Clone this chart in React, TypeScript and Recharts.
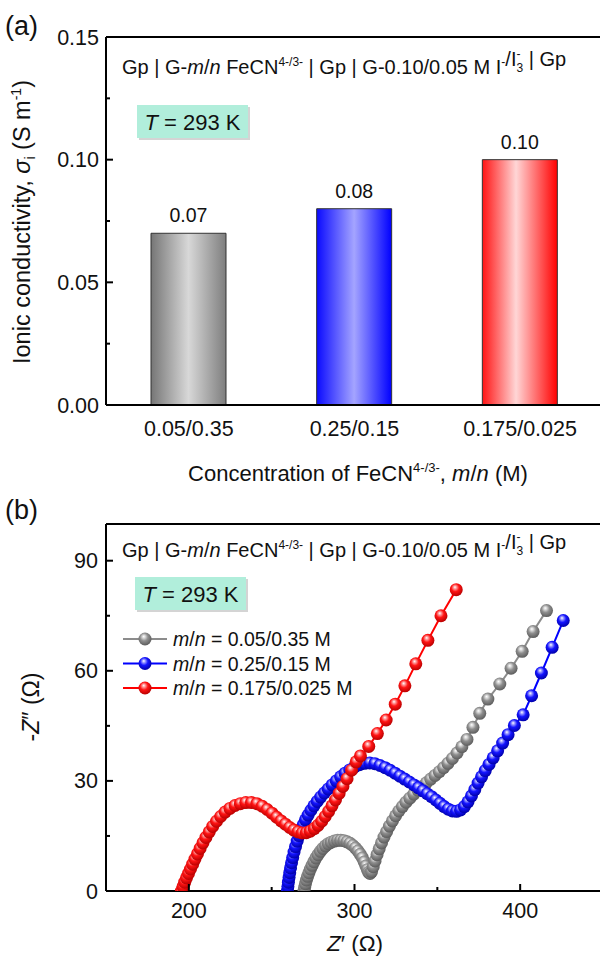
import {
  BarChart, Bar, XAxis, YAxis, Cell, LabelList, ReferenceLine,
  ScatterChart, Scatter,
} from "recharts";

const FONT = "Arial, 'Liberation Sans', sans-serif";

// panel (a): ionic conductivity per composition
const categories = ["0.05/0.35", "0.25/0.15", "0.175/0.025"];
const conductivity = [0.07, 0.08, 0.1];
const barFills = ["url(#barGray)", "url(#barBlue)", "url(#barRed)"];
const sigmaTicks = [0, 0.025, 0.05, 0.075, 0.1, 0.125, 0.15];

// panel (b): Nyquist plots, [Z', -Z''] in ohm
const grayZ: [number, number][] = [
  [269.5, 0], [269.9, 1], [270.4, 2], [271, 3], [271.7, 4], [272.5, 5], [273.4, 6], [274.4, 7],
  [275.5, 8], [276.7, 9], [278, 9.9], [279.4, 10.8], [280.9, 11.6], [282.5, 12.3], [284.2, 12.9],
  [286, 13.3], [287.9, 13.6], [289.8, 13.8], [291.7, 13.8], [293.6, 13.7], [295.5, 13.4],
  [297.3, 13], [299, 12.4], [300.6, 11.7], [302.1, 10.9], [303.5, 10], [304.8, 9],
  [305.9, 7.9], [306.9, 6.8], [307.8, 5.8], [308.6, 5.1], [309.4, 4.8], [310.3, 5.3],
  [311.3, 6.6], [312.4, 8.2], [313.6, 9.9], [314.9, 11.5], [316.3, 13.1], [317.8, 14.7],
  [319.4, 16.2], [321.1, 17.7], [322.9, 19.1], [324.8, 20.5], [326.8, 21.8], [328.9, 23],
  [331.1, 24.2], [333.4, 25.3], [335.8, 26.4], [338.3, 27.5], [340.8, 28.5], [343.4, 29.5],
  [346, 30.5], [348.6, 31.5], [351.2, 32.5], [353.8, 33.6], [356.4, 34.8], [359.1, 36.1],
  [361.9, 37.6], [364.8, 39.3], [367.9, 41.3], [371.5, 44.6], [375.6, 48.4], [380.5, 52.3],
  [387.7, 56.4], [394.5, 60.7], [401.2, 65.3], [407.8, 70.7], [415.9, 76.4],
];

const blueZ: [number, number][] = [
  [259.5, 0], [259.8, 1.2], [260.1, 2.4], [260.5, 3.7], [260.9, 5], [261.4, 6.3], [262, 7.7],
  [262.7, 9.1], [263.5, 10.6], [264.4, 12.1], [265.4, 13.6], [266.5, 15.1], [267.7, 16.6],
  [269, 18], [270.4, 19.4], [272, 20.7], [273.7, 22], [275.5, 23.2], [277.5, 24.4],
  [279.6, 25.6], [281.8, 26.7], [284.1, 27.8], [286.5, 28.9], [289, 30], [291.6, 31.1],
  [294.3, 32.1], [297.1, 33], [300, 33.8], [303, 34.4], [306.1, 34.8], [309.2, 34.9],
  [312.3, 34.7], [315.4, 34.2], [318.5, 33.6], [321.5, 32.9], [324.5, 32.1], [327.4, 31.3],
  [330.3, 30.5], [333.1, 29.7], [335.9, 28.9], [338.6, 28.1], [341.3, 27.3], [343.9, 26.5],
  [346.5, 25.7], [349.1, 24.8], [351.6, 23.9], [354.1, 23], [356.6, 22.3], [359.1, 21.8],
  [361.6, 21.7], [364, 22.1], [366.3, 23], [368.5, 24.3], [370.6, 25.9], [372.6, 27.6],
  [374.6, 29.4], [376.7, 31.1], [378.9, 32.8], [381.2, 34.5], [383.7, 36.3], [386.4, 38.2],
  [389.4, 40.3], [392.7, 42.6], [396.5, 45.1], [401.8, 48], [406.9, 53.2], [412.8, 59.4],
  [419.3, 66.4], [426, 73.7],
];

const redZ: [number, number][] = [
  [195.5, 0], [196.5, 1.2], [197.5, 2.4], [198.6, 3.6], [199.8, 4.8], [201, 6], [202.3, 7.3],
  [203.7, 8.7], [205.2, 10.1], [206.8, 11.6], [208.5, 13.1], [210.3, 14.6], [212.3, 16.1],
  [214.4, 17.6], [216.7, 19], [219.2, 20.3], [221.9, 21.5], [224.8, 22.5], [227.9, 23.3],
  [231.1, 23.8], [234.4, 24.1], [237.8, 24.1], [241.1, 23.8], [244.3, 23.1], [247.3, 22.2],
  [250.2, 21.2], [253, 20.1], [255.7, 19.1], [258.3, 18.2], [260.9, 17.3], [263.4, 16.6],
  [265.9, 16.1], [268.4, 15.8], [270.9, 15.9], [273.3, 16.3], [275.7, 17], [278, 17.9],
  [280.2, 19], [282.3, 20.3], [284.4, 21.7], [286.4, 23.2], [288.5, 24.8], [290.7, 26.6],
  [293, 28.5], [295.5, 30.6], [298.2, 32.9], [301, 35.2], [303.6, 36.8], [308.6, 39.4],
  [313.8, 42.9], [319.1, 46.6], [324.6, 50.9], [330.4, 55.9], [337, 61.9], [344.3, 68.3],
  [352.2, 75], [361.4, 82.1],
];

const seriesNames = ["0.05/0.35", "0.25/0.15", "0.175/0.025"];
const seriesColors = ["#8c8c8c", "#0000ff", "#ff0000"];
const sphereIds = ["sphGray", "sphBlue", "sphRed"];
const zTicksX = [200, 250, 300, 350, 400];
const zTicksY = [0, 15, 30, 45, 60, 75, 90];

const toPts = (arr: [number, number][]) => arr.map(([x, y]) => ({ x, y }));

function LeftTickA(p: any) {
  const v = p.payload.value;
  const major = Math.abs(v / 0.05 - Math.round(v / 0.05)) < 1e-6;
  return (
    <g>
      <line x1={p.x} y1={p.y} x2={p.x + (major ? 7 : 4)} y2={p.y} stroke="#000" strokeWidth={2} />
      {major && (
        <text x={p.x - 7} y={p.y + 7.5} textAnchor="end" fontSize={21.5} fontFamily={FONT} fill="#111">
          {v.toFixed(2)}
        </text>
      )}
    </g>
  );
}

function RightTick(major: (v: number) => boolean) {
  return (p: any) => (
    <line x1={p.x} y1={p.y} x2={p.x - (major(p.payload.value) ? 7 : 4)} y2={p.y} stroke="#000" strokeWidth={2} />
  );
}

function CatTick(p: any) {
  return (
    <text x={p.x} y={p.y + 31} textAnchor="middle" fontSize={21.5} fontFamily={FONT} fill="#111">
      {p.payload.value}
    </text>
  );
}

function LeftTickB(p: any) {
  const v = p.payload.value;
  const major = v % 30 === 0;
  return (
    <g>
      <line x1={p.x} y1={p.y} x2={p.x + (major ? 7 : 4)} y2={p.y} stroke="#000" strokeWidth={2} />
      {major && (
        <text x={p.x - 8} y={p.y + 7.5} textAnchor="end" fontSize={21.5} fontFamily={FONT} fill="#111">
          {v}
        </text>
      )}
    </g>
  );
}

function BottomTickB(p: any) {
  const v = p.payload.value;
  const major = v % 100 === 0;
  return (
    <g>
      <line x1={p.x} y1={p.y} x2={p.x} y2={p.y - (major ? 7 : 4)} stroke="#000" strokeWidth={2} />
      {major && (
        <text x={p.x} y={p.y + 27} textAnchor="middle" fontSize={21.5} fontFamily={FONT} fill="#111">
          {v}
        </text>
      )}
    </g>
  );
}

function sphere(id: string) {
  return (p: any) => <circle cx={p.cx} cy={p.cy} r={6.5} fill={`url(#${id})`} />;
}

function CellTitle({ y }: { y: number }) {
  return (
    <text x={122} y={y} fontSize={20} fontFamily={FONT} fill="#111">
      Gp | G-<tspan fontStyle="italic">m</tspan>/<tspan fontStyle="italic">n</tspan> FeCN
      <tspan fontSize={12} dy={-8}>4-/3-</tspan>
      <tspan dy={8}> | Gp | G-0.10/0.05 M I</tspan>
      <tspan fontSize={12} dy={-8}>-</tspan>
      <tspan>/I</tspan>
      <tspan fontSize={12} dy={-8}>-</tspan>
      <tspan fontSize={12} dx={-4} dy={14}>3</tspan>
      <tspan dy={-6}> | Gp</tspan>
    </text>
  );
}

function TempBox({ x, y }: { x: number; y: number }) {
  return (
    <g>
      <rect x={x + 2} y={y + 2} width={111} height={33} fill="#d4d4d4" />
      <rect x={x} y={y} width={111} height={33} fill="#b1eedb" />
      <text x={x + 55.5} y={y + 24.5} textAnchor="middle" fontSize={22} fontFamily={FONT} fill="#111">
        <tspan fontStyle="italic">T</tspan> = 293 K
      </text>
    </g>
  );
}

function Gradients() {
  return (
    <svg width={0} height={0} style={{ position: "absolute" }}>
      <defs>
        <linearGradient id="barGray" x1="0" y1="0" x2="1" y2="0">
          <stop offset="0" stopColor="#767676" />
          <stop offset="0.5" stopColor="#d8d8d8" />
          <stop offset="1" stopColor="#7e7e7e" />
        </linearGradient>
        <linearGradient id="barBlue" x1="0" y1="0" x2="1" y2="0">
          <stop offset="0" stopColor="#0a0aff" />
          <stop offset="0.5" stopColor="#a4a4ff" />
          <stop offset="1" stopColor="#0000ff" />
        </linearGradient>
        <linearGradient id="barRed" x1="0" y1="0" x2="1" y2="0">
          <stop offset="0" stopColor="#ff1414" />
          <stop offset="0.45" stopColor="#ffd6d6" />
          <stop offset="1" stopColor="#ff0000" />
        </linearGradient>
        {[
          ["sphGray", "#d6d6d6", "#8e8e8e", "#5c5c5c"],
          ["sphBlue", "#9a9aff", "#1414ff", "#0000a8"],
          ["sphRed", "#ff9a9a", "#ff1414", "#b80000"],
        ].map(([id, hi, mid, edge]) => (
          <radialGradient key={id} id={id} cx="0.45" cy="0.4" r="0.6" fx="0.4" fy="0.3">
            <stop offset="0" stopColor="#ffffff" />
            <stop offset="0.2" stopColor={hi} />
            <stop offset="0.5" stopColor={mid} />
            <stop offset="1" stopColor={edge} />
          </radialGradient>
        ))}
      </defs>
    </svg>
  );
}

export default function App() {
  const barData = categories.map((c, i) => ({ cat: c, value: conductivity[i] }));
  const series = [grayZ, blueZ, redZ];

  return (
    <div style={{ position: "absolute", left: 0, top: 0, width: 600, height: 961, overflow: "hidden", background: "#fff" }}>
      <Gradients />
      <div style={{ position: "absolute", left: 0, top: 0 }}>
        <BarChart width={640} height={480} data={barData} margin={{ top: 37, right: 7, left: 0, bottom: 0 }}>
          <XAxis dataKey="cat" height={75} tickSize={0} tickMargin={0} tick={<CatTick />}
            axisLine={{ stroke: "#000", strokeWidth: 2 }} tickLine={false} />
          <YAxis width={106} domain={[0, 0.15]} ticks={sigmaTicks} tickSize={0} tickMargin={0}
            tick={<LeftTickA />} tickLine={false} axisLine={{ stroke: "#000", strokeWidth: 2 }} />
          <YAxis yAxisId="r" orientation="right" width={30} domain={[0, 0.15]} ticks={sigmaTicks}
            tickSize={0} tickMargin={0} tickLine={false}
            tick={RightTick((v) => Math.abs(v / 0.05 - Math.round(v / 0.05)) < 1e-6)}
            axisLine={{ stroke: "#000", strokeWidth: 2 }} />
          <ReferenceLine y={0.15} stroke="#000" strokeWidth={2} />
          <Bar dataKey="value" barSize={75} stroke="#333" strokeWidth={1} isAnimationActive={false}>
            {barData.map((d, i) => (
              <Cell key={d.cat} fill={barFills[i]} />
            ))}
            <LabelList dataKey="value" position="top" offset={11} fontSize={19.5} fontFamily={FONT} fill="#111"
              formatter={(v: any) => Number(v).toFixed(2)} />
          </Bar>
        </BarChart>
      </div>

      <div style={{ position: "absolute", left: 0, top: 480 }}>
        <ScatterChart width={640} height={481} margin={{ top: 44, right: 7, left: 0, bottom: 0 }}>
          <XAxis type="number" dataKey="x" domain={[150, 450]} ticks={zTicksX} height={70}
            allowDataOverflow tickSize={0} tickMargin={0} tickLine={false} tick={<BottomTickB />}
            axisLine={{ stroke: "#000", strokeWidth: 2 }} />
          <YAxis type="number" dataKey="y" width={106} domain={[0, 100]} ticks={zTicksY}
            allowDataOverflow tickSize={0} tickMargin={0} tickLine={false} tick={<LeftTickB />}
            axisLine={{ stroke: "#000", strokeWidth: 2 }} />
          <YAxis yAxisId="r" orientation="right" type="number" width={30} domain={[0, 100]} ticks={zTicksY}
            tickSize={0} tickMargin={0} tickLine={false} tick={RightTick((v) => v % 30 === 0)}
            axisLine={{ stroke: "#000", strokeWidth: 2 }} />
          <ReferenceLine y={100} stroke="#000" strokeWidth={2} />
          {series.map((s, i) => (
            <Scatter key={seriesNames[i]} name={seriesNames[i]} data={toPts(s)}
              line={{ stroke: seriesColors[i], strokeWidth: 2 }} lineType="joint"
              shape={sphere(sphereIds[i])} isAnimationActive={false} />
          ))}
        </ScatterChart>
      </div>

      <svg width={600} height={961} style={{ position: "absolute", left: 0, top: 0, pointerEvents: "none" }}>
        {/* panel (a) */}
        <text x={5} y={35} fontSize={27} fontFamily={FONT} fill="#111">(a)</text>
        <CellTitle y={74} />
        <TempBox x={137} y={105} />
        <text transform="translate(30,222) rotate(-90)" textAnchor="middle" fontSize={23.5} fontFamily={FONT} fill="#111">
          Ionic conductivity, <tspan fontStyle="italic">σ</tspan>
          <tspan fontSize={14} dy={5}>i</tspan>
          <tspan dy={-5}> (S m</tspan>
          <tspan fontSize={14} dy={-9}>-1</tspan>
          <tspan dy={9}>)</tspan>
        </text>
        <text x={358} y={481} textAnchor="middle" fontSize={22} fontFamily={FONT} fill="#111">
          Concentration of FeCN<tspan fontSize={13} dy={-9}>4-/3-</tspan>
          <tspan dy={9}>, </tspan>
          <tspan fontStyle="italic">m</tspan>/<tspan fontStyle="italic">n</tspan> (M)
        </text>

        {/* panel (b) */}
        <text x={5} y={519} fontSize={27} fontFamily={FONT} fill="#111">(b)</text>
        <CellTitle y={557} />
        <TempBox x={135} y={577} />
        {seriesNames.map((n, i) => {
          const cy = 639 + i * 24.5;
          return (
            <g key={n}>
              <line x1={123} y1={cy} x2={167} y2={cy} stroke={seriesColors[i]} strokeWidth={2} />
              <circle cx={145} cy={cy} r={6.5} fill={`url(#${sphereIds[i]})`} />
              <text x={173} y={cy + 7} fontSize={19.5} fontFamily={FONT} fill="#111">
                <tspan fontStyle="italic">m</tspan>/<tspan fontStyle="italic">n</tspan> = {n} M
              </text>
            </g>
          );
        })}
        <text transform="translate(39,707) rotate(-90)" textAnchor="middle" fontSize={23} fontFamily={FONT} fill="#111">
          -<tspan fontStyle="italic">Z</tspan>″ (Ω)
        </text>
        <text x={355} y={951} textAnchor="middle" fontSize={22.5} fontFamily={FONT} fill="#111">
          <tspan fontStyle="italic">Z</tspan>′ (Ω)
        </text>
      </svg>
    </div>
  );
}
